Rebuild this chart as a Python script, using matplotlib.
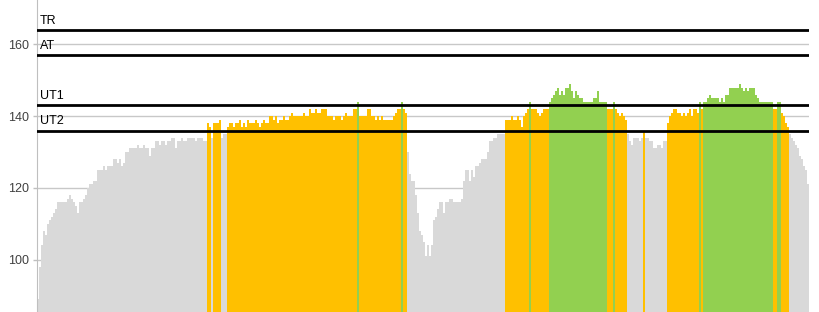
import numpy as np
import matplotlib.pyplot as plt

# prahové zóny (tepová frekvence)
zone_names = ['TR', 'AT', 'UT1', 'UT2']
zone_values = [164, 157, 143, 136]

# průběh tepové frekvence, po úsecích (1 sloupec = 1 vzorek)
hr_warmup = [89, 98, 104, 108, 107, 110, 111, 112, 113, 114, 116, 116, 116, 116, 116, 117, 118, 117, 116, 115,
             113, 116, 116, 117, 118, 120, 121, 121, 122, 122, 125, 125, 125, 126, 125, 126, 126, 126, 128, 128,
             127, 128, 126, 127, 130, 130, 131, 131, 131, 131, 132, 131, 131, 132, 131, 131, 129, 131, 131, 133,
             133, 132, 133, 133, 132, 133, 133, 134, 134, 131, 133, 133, 134, 133, 133, 134, 134, 134, 134, 133,
             134, 134, 134, 133, 133]
hr_block1 = [138, 137, 134, 138, 138, 138, 139, 134, 135, 135, 137, 138, 138, 137, 138,
             138, 139, 137, 138, 137, 139, 138, 138, 138, 139, 138, 137, 138, 139, 138, 138, 140, 140, 139, 140,
             138, 139, 139, 140, 139, 139, 140, 141, 140, 140, 140, 140, 140, 141, 140, 140, 142, 141, 141, 142,
             141, 141, 142, 142, 142, 140, 140, 140, 139, 140, 140, 140, 139, 140, 141, 140, 140, 140, 142, 142,
             144, 140, 140, 140, 140, 142, 142, 140, 140, 139, 140, 139, 140, 139, 139, 139, 139, 139, 140, 141,
             142, 142, 144, 142, 141]
hr_recovery1 = [130, 124, 122, 122, 118, 113, 108, 107, 105, 101, 104, 101, 104, 111, 112,
                114, 116, 116, 113, 116, 116, 117, 117, 116, 116, 116, 116, 117, 122, 125, 125, 122, 125, 123, 126,
                126, 127, 128, 128, 128, 130, 133, 133, 134, 134, 135, 135, 135, 135]
hr_block2 = [139, 139, 139, 140, 139, 139,
             140, 139, 137, 140, 141, 142, 144, 142, 142, 142, 141, 140, 141, 142, 142, 142, 144, 145, 146, 147,
             148, 146, 147, 146, 148, 148, 149, 147, 145, 147, 146, 145, 145, 144, 144, 144, 144, 144, 145, 145,
             147, 144, 144, 144, 144, 142, 142, 142, 144, 142, 141, 140, 141, 140, 139]
hr_recovery2 = [135, 133, 132, 134, 134, 134, 133, 134, 136, 134, 134, 133, 133, 131, 131, 132, 132, 131, 133, 133]
hr_block3 = [138, 140, 141, 142, 142,
             141, 141, 140, 141, 140, 141, 142, 140, 142, 142, 141, 144, 142, 144, 144, 145, 146, 145, 145, 145,
             145, 144, 145, 144, 146, 146, 148, 148, 148, 148, 148, 149, 148, 147, 148, 147, 148, 148, 148, 146,
             145, 144, 144, 144, 144, 144, 144, 144, 142, 142, 144, 144, 141, 140, 138, 137]
hr_cooldown = [135, 134, 133, 132, 131, 129, 128, 126, 125, 121]

hr = np.array(hr_warmup + hr_block1 + hr_recovery1 + hr_block2 + hr_recovery2 + hr_block3 + hr_cooldown)

UT1 = zone_values[2]
UT2 = zone_values[3]

GRAY = '#d9d9d9'
ORANGE = '#ffc000'
GREEN = '#92d050'

# barva podle zóny
colors = np.where(hr > UT1, GREEN, np.where(hr >= UT2, ORANGE, GRAY))

plt.rcParams['font.family'] = ['Liberation Sans', 'DejaVu Sans']

fig = plt.figure(figsize=(8.2, 3.12), dpi=100)
ax = fig.add_axes([37 / 820, 0, 772 / 820, 1])

x = np.arange(len(hr))
ax.bar(x, hr, width=1.0, color=colors, linewidth=0, antialiased=False, zorder=2)

for name, val in zip(zone_names, zone_values):
    ax.axhline(val, color='black', linewidth=2.0, zorder=3)
    ax.annotate(name, xy=(0, val), xycoords=('axes fraction', 'data'),
                xytext=(2, 2.5), textcoords='offset points',
                ha='left', va='bottom', fontsize=9, color='black', zorder=4)

ax.set_xlim(-0.5, len(hr) - 0.5)
ax.set_ylim(85.4, 172.4)
ax.set_yticks([100, 120, 140, 160])
ax.yaxis.grid(True, color='#c8c8c8', linewidth=1.0, zorder=0)
ax.set_axisbelow(True)
ax.set_xticks([])

for side in ['top', 'right', 'bottom']:
    ax.spines[side].set_visible(False)
ax.spines['left'].set_color('#bfbfbf')
ax.tick_params(axis='y', length=3, width=1, color='#bfbfbf', labelsize=9, labelcolor='#404040', pad=3)

plt.savefig('out.png', dpi=100)
